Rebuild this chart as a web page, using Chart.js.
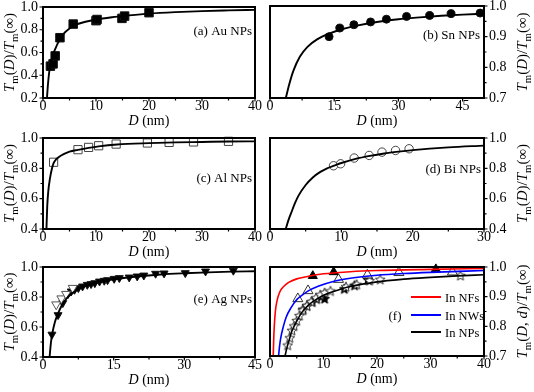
<!DOCTYPE html>
<html><head><meta charset="utf-8">
<script src="https://cdn.jsdelivr.net/npm/chart.js@4.4.0/dist/chart.umd.min.js"></script>
<style>
html,body{margin:0;padding:0;background:#fff;}
#wrap{position:relative;width:534px;height:392px;background:#fff;}
#wrap canvas{position:absolute;left:0;top:0;}
</style></head><body>
<div id="wrap">
<canvas id="pa" width="534" height="392"></canvas>
<canvas id="pb" width="534" height="392"></canvas>
<canvas id="pc" width="534" height="392"></canvas>
<canvas id="pd" width="534" height="392"></canvas>
<canvas id="pe" width="534" height="392"></canvas>
<canvas id="pf" width="534" height="392"></canvas>
</div>
<script>
// ---------- DATA ----------
// (a) Au NPs
const auD = [1.4, 1.9, 2.3, 3.2, 5.7, 10.0, 10.2, 14.9, 15.4, 20.0];
const auT = [0.48, 0.50, 0.57, 0.73, 0.85, 0.88, 0.89, 0.90, 0.92, 0.95];
const auCurveD = [0.75, 0.9, 1.1, 1.4, 1.8, 2.3, 3, 4, 5, 6, 8, 10, 13, 16, 20, 25, 30, 35, 40];
const auCurveT = [0.2, 0.3, 0.4, 0.5, 0.57, 0.63, 0.70, 0.77, 0.81, 0.84, 0.87, 0.89, 0.91, 0.925, 0.942, 0.955, 0.964, 0.97, 0.975];
// (b) Sn NPs
const snD = [13.8, 16.3, 19.6, 23.5, 27.2, 31.9, 37.3, 42.3, 49.1];
const snT = [0.90, 0.928, 0.939, 0.948, 0.957, 0.966, 0.969, 0.975, 0.977];
const snCurveD = [3.7, 4.5, 5.5, 7, 8.7, 11, 13.8, 17, 20, 25, 30, 35, 40, 45, 50];
const snCurveT = [0.70, 0.745, 0.79, 0.835, 0.866, 0.891, 0.91, 0.925, 0.935, 0.948, 0.957, 0.963, 0.968, 0.972, 0.975];
// (c) Al NPs
const alD = [2.0, 6.6, 8.6, 10.5, 13.8, 19.7, 23.8, 28.4, 35.0];
const alT = [0.84, 0.923, 0.938, 0.949, 0.96, 0.967, 0.971, 0.974, 0.978];
const alCurveD = [0.65, 0.8, 1.0, 1.3, 1.7, 2.0, 2.5, 3, 4, 5, 6.6, 8.6, 10.5, 14, 20, 25, 30, 35, 40];
const alCurveT = [0.4, 0.55, 0.65, 0.73, 0.8, 0.835, 0.86, 0.875, 0.895, 0.91, 0.922, 0.935, 0.945, 0.957, 0.966, 0.971, 0.974, 0.977, 0.978];
// (d) Bi NPs
const biD = [8.9, 9.9, 11.8, 13.9, 15.7, 17.6, 19.5];
const biT = [0.817, 0.830, 0.868, 0.885, 0.907, 0.918, 0.929];
const biCurveD = [2.2, 2.6, 3, 3.5, 4, 5, 6, 7, 8, 9, 10, 12, 14, 16, 18, 20, 25, 30];
const biCurveT = [0.4, 0.46, 0.51, 0.57, 0.62, 0.69, 0.74, 0.775, 0.80, 0.818, 0.835, 0.862, 0.882, 0.898, 0.91, 0.92, 0.938, 0.95];
// (e) Ag NPs
const agD = [1.9, 3.2, 4.2, 5.3, 6.0, 6.7, 7.5, 8.4, 9.4, 10.2, 11.0, 12.0, 13.0, 13.7, 15.1, 16.2, 18.3, 20.0, 21.4, 23.9, 25.7, 30.2, 34.5, 40.4];
const agT = [0.55, 0.68, 0.76, 0.82, 0.838, 0.849, 0.86, 0.871, 0.882, 0.887, 0.893, 0.904, 0.909, 0.913, 0.922, 0.927, 0.931, 0.938, 0.944, 0.956, 0.958, 0.96, 0.971, 0.976];
const agOpenD = [2.8, 3.9, 4.9, 6.3];
const agOpenT = [0.75, 0.79, 0.82, 0.86];
const agCurveD = [1.4, 1.7, 2, 2.5, 3, 4, 5, 6, 8, 10, 12, 15, 20, 25, 30, 35, 40, 45];
const agCurveT = [0.4, 0.50, 0.56, 0.63, 0.675, 0.745, 0.79, 0.82, 0.86, 0.882, 0.9, 0.918, 0.937, 0.95, 0.958, 0.964, 0.969, 0.972];
// (f) In
const nfD = [8.0, 11.9, 31.0];
const nfT = [0.97, 0.983, 0.993];
const nwD = [5.2, 7.1, 12.8, 18.2, 24.1, 34.1];
const nwT = [0.893, 0.92, 0.958, 0.973, 0.981, 0.983];
const npOpenD = [3.3, 3.7, 4.1, 4.5, 5.0, 5.5, 6.1, 6.9, 7.7, 8.6, 9.4, 10.2, 11.3, 14.2, 16.2, 18.6, 20.6, 35.6];
const npOpenT = [0.735, 0.76, 0.785, 0.80, 0.818, 0.835, 0.853, 0.868, 0.882, 0.895, 0.905, 0.912, 0.918, 0.932, 0.94, 0.953, 0.957, 0.97];
const npD = [6.2, 6.9, 7.9, 8.7, 9.6, 10.1, 10.2, 13.9, 15.8, 18.3];
const npT = [0.856, 0.868, 0.881, 0.891, 0.9, 0.906, 0.892, 0.925, 0.937, 0.956];
const nfCurveD = [0.6, 0.7, 0.8, 1.0, 1.3, 1.6, 2, 2.6, 3.5, 5, 7, 10, 15, 20, 30, 40];
const nfCurveT = [0.70, 0.76, 0.80, 0.85, 0.885, 0.905, 0.922, 0.935, 0.948, 0.96, 0.968, 0.977, 0.984, 0.988, 0.992, 0.995];
const nwCurveD = [1.6, 1.8, 2, 2.5, 3, 4, 5, 6, 7, 9, 12, 15, 20, 25, 30, 40];
const nwCurveT = [0.70, 0.735, 0.76, 0.80, 0.83, 0.865, 0.89, 0.905, 0.918, 0.935, 0.952, 0.962, 0.972, 0.978, 0.982, 0.988];
const npCurveD = [2.8, 3.2, 3.6, 4, 4.5, 5, 6, 7, 8, 10, 12, 15, 20, 25, 30, 35, 40];
const npCurveT = [0.70, 0.73, 0.755, 0.78, 0.80, 0.818, 0.848, 0.868, 0.883, 0.905, 0.918, 0.934, 0.95, 0.959, 0.965, 0.97, 0.974];

// tick labels
const xTicks40 = [0, 10, 20, 30, 40];
const xTicks50 = [0, 15, 30, 45];
const xTicks30 = [0, 10, 20, 30];
const xTicks45 = [0, 15, 30, 45];
const yTicksA = [0.2, 0.4, 0.6, 0.8, 1.0];
const yTicks07 = [0.7, 0.8, 0.9, 1.0];
const yTicks04 = [0.4, 0.6, 0.8, 1.0];
const legendLabels = ['In NFs', 'In NWs', 'In NPs'];

// ---------- RENDER ----------
const W = 534, H = 392;
const FONT = '"Liberation Serif","Times New Roman",serif';
const pts = (xs, ys) => xs.map((x, i) => ({x: x, y: ys[i]}));

function starImg(r, fill, stroke) {
  const s = Math.ceil(r * 2 + 3);
  const c = document.createElement('canvas'); c.width = s; c.height = s;
  const g = c.getContext('2d');
  g.beginPath();
  for (let i = 0; i < 10; i++) {
    const a = -Math.PI / 2 + i * Math.PI / 5;
    const rr = i % 2 ? r * 0.45 : r;
    g.lineTo(s / 2 + rr * Math.cos(a), s / 2 + rr * Math.sin(a));
  }
  g.closePath(); g.fillStyle = fill; g.fill();
  g.lineWidth = 1; g.strokeStyle = stroke; g.stroke();
  return c;
}

function drawRich(ctx, segs, x, y, rot, size) {
  ctx.save(); ctx.translate(x, y); ctx.rotate(rot);
  let total = 0;
  const parts = segs.map(s => {
    const fs = s.sub ? size * 0.72 : size;
    const f = (s.it ? 'italic ' : '') + fs + 'px ' + FONT;
    ctx.font = f;
    const w = ctx.measureText(s.t).width;
    total += w;
    return {s, f, w};
  });
  let cx = -total / 2;
  const base = size * 0.33;
  ctx.textBaseline = 'alphabetic'; ctx.textAlign = 'left'; ctx.fillStyle = '#000';
  parts.forEach(p => {
    ctx.font = p.f;
    ctx.fillText(p.s.t, cx, p.s.sub ? base + size * 0.28 : base);
    cx += p.w;
  });
  ctx.restore();
}

const titleTm = [{t:'T', it:1}, {t:'m', sub:1}, {t:'('}, {t:'D', it:1}, {t:')/'}, {t:'T', it:1}, {t:'m', sub:1}, {t:'(∞)'}];
const titleTmd = [{t:'T', it:1}, {t:'m', sub:1}, {t:'('}, {t:'D', it:1}, {t:', '}, {t:'d', it:1}, {t:')/'}, {t:'T', it:1}, {t:'m', sub:1}, {t:'(∞)'}];
const titleD = [{t:'D', it:1}, {t:' (nm)'}];

function decorPlugin(o) {
  return {
    id: 'decor',
    afterDraw(chart) {
      const ctx = chart.ctx, a = chart.chartArea;
      const xs = chart.scales.x, ys = chart.scales.y;
      ctx.save();
      // frame
      ctx.strokeStyle = '#000'; ctx.lineWidth = 2;
      ctx.strokeRect(a.left, a.top, a.right - a.left, a.bottom - a.top);
      // ticks
      ctx.lineWidth = 1.2;
      ctx.beginPath();
      const xStep = o.xTicks[1] - o.xTicks[0];
      for (let v = o.xTicks[0]; v <= xs.max + 1e-9; v += xStep / 2) {
        const px = xs.getPixelForValue(v);
        const major = Math.abs(((v - o.xTicks[0]) / xStep) - Math.round((v - o.xTicks[0]) / xStep)) < 1e-6;
        const len = major ? 3.5 : 2.5;
        ctx.moveTo(px, a.bottom); ctx.lineTo(px, a.bottom + len);
      }
      const yStep = o.yTicks[1] - o.yTicks[0];
      for (let v = o.yTicks[0]; v <= ys.max + 1e-9; v += yStep / 2) {
        const py = ys.getPixelForValue(v);
        const major = Math.abs(((v - o.yTicks[0]) / yStep) - Math.round((v - o.yTicks[0]) / yStep)) < 1e-6;
        const len = major ? 3.5 : 2.5;
        if (o.right) { ctx.moveTo(a.right, py); ctx.lineTo(a.right + len, py); }
        else { ctx.moveTo(a.left, py); ctx.lineTo(a.left - len, py); }
      }
      ctx.stroke();
      // titles
      drawRich(ctx, titleD, (a.left + a.right) / 2, a.bottom + 22, 0, 14);
      drawRich(ctx, o.yTitle || titleTm, o.right ? 522 : 9, (a.top + a.bottom) / 2, -Math.PI / 2, 15);
      // annotation
      ctx.fillStyle = '#000'; ctx.font = '13px ' + FONT; ctx.textBaseline = 'alphabetic';
      if (o.note) {
        ctx.textAlign = o.note.align || 'right';
        ctx.fillText(o.note.text, o.note.x, o.note.y);
      }
      if (o.legend) {
        ctx.font = '12.5px ' + FONT;
        o.legend.forEach(L => {
          ctx.strokeStyle = L.color; ctx.lineWidth = 2;
          ctx.beginPath(); ctx.moveTo(L.x0, L.y); ctx.lineTo(L.x1, L.y); ctx.stroke();
          ctx.textAlign = 'left'; ctx.fillStyle = '#000';
          ctx.fillText(L.label, L.x1 + 4, L.y + 4.5);
        });
      }
      ctx.restore();
    }
  };
}

function panel(id, o) {
  const A = o.area, XH = 28, YW = 34;
  new Chart(document.getElementById(id), {
    type: 'scatter',
    data: {datasets: o.datasets},
    options: {
      responsive: false, animation: false, devicePixelRatio: 1,
      layout: {padding: {
        left: o.right ? A.l : A.l - YW,
        right: o.right ? W - A.r - YW : W - A.r,
        top: A.t, bottom: H - A.b - XH}},
      plugins: {legend: {display: false}, tooltip: {enabled: false}},
      scales: {
        x: {type: 'linear', position: 'bottom', min: o.xMin, max: o.xMax,
          grid: {display: false, drawTicks: false}, border: {display: false},
          ticks: {color: '#000', font: {family: FONT, size: 14}, padding: 0, maxRotation: 0, autoSkip: false, callback: v => String(v)},
          afterBuildTicks: s => { s.ticks = o.xTicks.map(v => ({value: v})); },
          afterFit: s => { s.height = XH; s.paddingLeft = 0; s.paddingRight = 0; }},
        y: {type: 'linear', position: o.right ? 'right' : 'left', min: o.yMin, max: o.yMax,
          grid: {display: false, drawTicks: false}, border: {display: false},
          ticks: {color: '#000', font: {family: FONT, size: 14}, padding: 5, autoSkip: false, callback: v => v.toFixed(1)},
          afterBuildTicks: s => { s.ticks = o.yTicks.map(v => ({value: v})); },
          afterFit: s => { s.width = YW; s.paddingTop = 0; s.paddingBottom = 0; }}
      }
    },
    plugins: [decorPlugin(o)]
  });
}

const curve = (xs, ys, color, w) => ({data: pts(xs, ys), showLine: true, pointRadius: 0, borderColor: color, borderWidth: w || 1.9, fill: false, cubicInterpolationMode: 'monotone'});
const marks = (xs, ys, style, r, bg, bc, extra) => Object.assign({data: pts(xs, ys), showLine: false, pointStyle: style, pointRadius: r, pointBackgroundColor: bg, pointBorderColor: bc, pointBorderWidth: 1, clip: false}, extra || {});

panel('pa', {area: {l: 43, r: 255, t: 7, b: 98}, xMin: 0, xMax: 40, yMin: 0.2, yMax: 1.0, xTicks: xTicks40, yTicks: yTicksA,
  note: {text: '(a) Au NPs', x: 252, y: 35},
  datasets: [curve(auCurveD, auCurveT, '#000'), marks(auD, auT, 'rect', 6, '#000', '#111')]});
panel('pb', {right: true, area: {l: 270, r: 484, t: 6, b: 98}, xMin: 0, xMax: 50, yMin: 0.7, yMax: 1.0, xTicks: xTicks50, yTicks: yTicks07,
  note: {text: '(b) Sn NPs', x: 480, y: 39},
  datasets: [curve(snCurveD, snCurveT, '#000'), marks(snD, snT, 'circle', 4, '#000', '#111')]});
panel('pc', {area: {l: 43, r: 255, t: 138, b: 229}, xMin: 0, xMax: 40, yMin: 0.4, yMax: 1.0, xTicks: xTicks40, yTicks: yTicks04,
  note: {text: '(c) Al NPs', x: 252, y: 182},
  datasets: [curve(alCurveD, alCurveT, '#000'), marks(alD, alT, 'rect', 5.8, '#fff', '#444')]});
panel('pd', {right: true, area: {l: 270, r: 484, t: 138, b: 229}, xMin: 0, xMax: 30, yMin: 0.4, yMax: 1.0, xTicks: xTicks30, yTicks: yTicks04,
  note: {text: '(d) Bi NPs', x: 481, y: 173},
  datasets: [curve(biCurveD, biCurveT, '#000'), marks(biD, biT, 'circle', 4.2, '#fff', '#444')]});
panel('pe', {area: {l: 43, r: 255, t: 267, b: 357}, xMin: 0, xMax: 45, yMin: 0.4, yMax: 1.0, xTicks: xTicks45, yTicks: yTicks04,
  note: {text: '(e) Ag NPs', x: 252, y: 303},
  datasets: [curve(agCurveD, agCurveT, '#000'),
    marks(agOpenD, agOpenT, 'triangle', 5.2, '#fff', '#555', {rotation: 180}),
    marks(agD, agT, 'triangle', 4.6, '#000', '#111', {rotation: 180})]});
const starOpen = starImg(5.2, '#fff', '#333');
const starFill = starImg(5.2, '#000', '#000');
panel('pf', {right: true, area: {l: 270, r: 484, t: 267, b: 356}, xMin: 0, xMax: 40, yMin: 0.7, yMax: 1.0, xTicks: xTicks40, yTicks: yTicks07,
  yTitle: titleTmd,
  note: {text: '(f)', x: 395, y: 320, align: 'center'},
  legend: [
    {label: legendLabels[0], color: '#ff0000', x0: 411, x1: 441, y: 297},
    {label: legendLabels[1], color: '#0000ff', x0: 411, x1: 441, y: 315},
    {label: legendLabels[2], color: '#000000', x0: 411, x1: 441, y: 332}],
  datasets: [
    curve(nfCurveD, nfCurveT, '#ff0000', 1.6),
    curve(nwCurveD, nwCurveT, '#0000ff', 1.6),
    curve(npCurveD, npCurveT, '#000', 1.6),
    marks(nfD, nfT, 'triangle', 5.2, '#000', '#000'),
    marks(nwD, nwT, 'triangle', 5.8, '#fff', '#333'),
    marks(npOpenD, npOpenT, starOpen, 5, '#fff', '#333'),
    marks(npD, npT, starFill, 5, '#000', '#000')]});
</script>
</body></html>
